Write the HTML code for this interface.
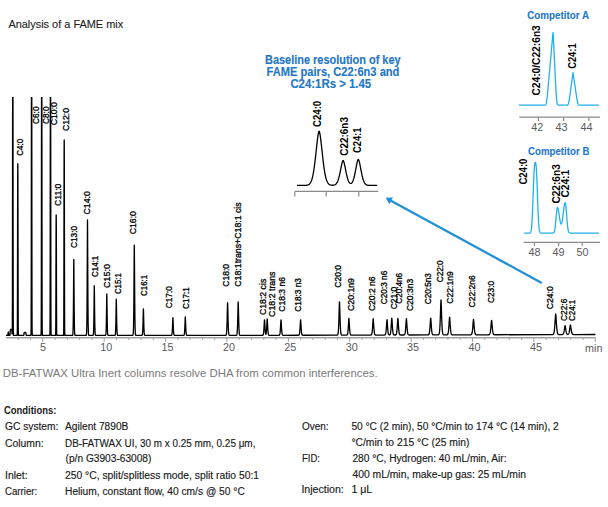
<!DOCTYPE html>
<html><head><meta charset="utf-8"><style>
html,body{margin:0;padding:0;background:#fff;}
svg{display:block;}
text{font-family:"Liberation Sans",sans-serif;}
.ax{font-size:10.8px;fill:#5a5a5a;}
.ax2{font-size:10.8px;fill:#5a5a5a;}
.lb{font-size:9.4px;fill:#000;stroke:#000;stroke-width:0.32px;}
.lbb{font-size:10px;font-weight:bold;fill:#000;}
.bt{font-size:12px;font-weight:bold;fill:#1f78c8;stroke:#1f78c8;stroke-width:0.15px;}
.ct{font-size:10px;font-weight:bold;fill:#1f78c8;stroke:#1f78c8;stroke-width:0.1px;}
.ttl{font-size:11px;fill:#1e1e1e;stroke:#1e1e1e;stroke-width:0.12px;}
.cap{font-size:10.8px;fill:#7a7a7a;}
.cd{font-size:10px;fill:#1a1a1a;stroke:#1a1a1a;stroke-width:0.15px;}
.cdb{font-size:10px;font-weight:bold;fill:#1a1a1a;}
</style></head>
<body><svg width="608" height="507" viewBox="0 0 608 507">
<clipPath id="cp"><rect x="0" y="97" width="608" height="260"/></clipPath>
<path d="M6,335.4 6.1,335.4 6.3,335.4 6.5,335.4 6.7,335.4 6.9,335.4 6.98,335.4 7.1,335.4 7.18,335.4 7.3,335.4 7.38,335.4 7.5,335.4 7.58,335.4 7.7,335.39 7.78,335.35 7.8,335.33 7.85,335.23 7.9,335.03 7.95,334.71 7.98,334.45 8,334.25 8.05,333.69 8.1,333.11 8.15,332.59 8.18,332.35 8.2,332.23 8.25,332.04 8.3,332 8.35,332.04 8.38,332.13 8.4,332.23 8.45,332.59 8.5,333.11 8.55,333.69 8.58,334.04 8.6,334.25 8.65,334.71 8.7,335.03 8.75,335.23 8.78,335.3 8.8,335.33 8.9,335.39 8.98,335.4 9.1,335.4 9.18,335.4 9.3,335.4 9.38,335.4 9.5,335.4 9.58,335.4 9.7,335.4 9.78,335.4 9.9,335.4 10.1,333.99 10.3,330.34 10.5,329.55 10.6,329.51 10.65,329.5 10.7,329.5 10.75,329.5 10.8,329.5 10.85,329.5 10.9,329.5 10.95,329.5 11,329.5 11.05,329.5 11.1,329.5 11.15,329.5 11.2,329.5 11.25,329.5 11.3,329.5 11.35,329.5 11.4,329.5 11.45,329.5 11.48,329.5 11.5,329.5 11.55,329.5 11.6,329.51 11.68,329.54 11.7,329.55 11.88,330.16 11.9,330.34 12.08,333.55 12.1,333.96 12.28,331.09 12.3,328.97 12.35,319.57 12.4,301.44 12.45,271.48 12.48,247.34 12.5,228.9 12.55,176.93 12.6,122.71 12.65,75.08 12.68,52.82 12.7,41.22 12.75,23.86 12.8,20 12.85,23.86 12.88,32.33 12.9,41.22 12.95,75.08 13,122.71 13.05,176.93 13.08,208.91 13.1,228.9 13.15,271.48 13.2,301.44 13.25,319.57 13.28,326.02 13.3,328.97 13.48,335.33 13.5,335.36 13.68,335.4 13.7,335.4 13.88,335.4 13.9,335.4 14.08,335.4 14.1,335.4 14.28,335.4 14.3,335.4 14.5,335.4 14.7,335.4 14.9,335.4 15.1,335.4 15.3,335.4 15.5,335.4 15.7,335.4 15.9,335.4 16.1,335.4 16.3,335.4 16.48,335.4 16.5,335.4 16.68,335.4 16.7,335.4 16.88,335.4 17.08,335.39 17.28,333.06 17.3,331.9 17.35,326.78 17.4,316.91 17.45,300.6 17.48,287.46 17.5,277.42 17.55,249.13 17.6,219.61 17.65,193.68 17.68,181.56 17.7,175.25 17.75,165.8 17.8,163.7 17.85,165.8 17.88,170.41 17.9,175.25 17.95,193.68 18,219.61 18.05,249.13 18.08,266.54 18.1,277.42 18.15,300.6 18.2,316.91 18.25,326.78 18.28,330.3 18.3,331.9 18.48,335.36 18.68,335.4 18.88,335.4 19,335.4 19.08,335.4 19.2,335.4 19.28,335.4 19.4,335.4 19.6,335.4 19.8,335.4 20,335.4 20.2,335.4 20.4,335.4 20.6,335.4 20.8,335.4 21,335.4 21.2,335.4 21.4,335.4 21.6,335.4 21.8,335.4 22,335.4 22.2,335.4 22.4,335.4 22.6,335.4 22.8,335.4 23,335.4 23.2,335.4 23.4,335.4 23.6,335.4 23.8,335.27 24,333.64 24.2,332.65 24.4,332.51 24.5,332.5 24.55,332.5 24.6,332.5 24.65,332.5 24.7,332.5 24.75,332.5 24.8,332.5 24.85,332.5 24.9,332.5 24.95,332.5 25,332.5 25.05,332.5 25.1,332.5 25.15,332.5 25.2,332.5 25.25,332.5 25.3,332.5 25.35,332.5 25.4,332.5 25.45,332.5 25.5,332.5 25.6,332.51 25.8,332.65 26,333.64 26.2,335.27 26.4,335.4 26.6,335.4 26.8,335.4 27,335.4 27.2,335.4 27.4,335.4 27.6,335.4 27.8,335.4 28,335.4 28.2,335.4 28.4,335.4 28.6,335.4 28.8,335.4 29,335.4 29.2,335.4 29.4,335.4 29.6,335.4 29.8,335.4 30,335.4 30.2,335.4 30.28,335.4 30.4,335.4 30.48,335.4 30.6,335.4 30.68,335.4 30.8,335.4 30.88,335.38 31,334.72 31.08,331.1 31.1,328.97 31.15,319.57 31.2,301.44 31.25,271.48 31.28,247.34 31.3,228.9 31.35,176.93 31.4,122.71 31.45,75.08 31.48,52.82 31.5,41.22 31.55,23.86 31.6,20 31.65,23.86 31.68,32.33 31.7,41.22 31.75,75.08 31.8,122.71 31.85,176.93 31.88,208.91 31.9,228.9 31.95,271.48 32,301.44 32.05,319.57 32.08,326.02 32.1,328.97 32.28,335.33 32.48,335.4 32.68,335.4 32.88,335.4 33.08,335.4 40.38,335.4 40.58,335.4 40.78,335.4 40.98,335.38 41.18,331.1 41.2,328.97 41.25,319.57 41.3,301.44 41.35,271.48 41.38,247.34 41.4,228.9 41.45,176.93 41.5,122.71 41.55,75.08 41.58,52.82 41.6,41.22 41.65,23.86 41.7,20 41.75,23.86 41.78,32.33 41.8,41.22 41.85,75.08 41.9,122.71 41.95,176.93 41.98,208.91 42,228.9 42.05,271.48 42.1,301.44 42.15,319.57 42.18,326.02 42.2,328.97 42.38,335.33 42.58,335.4 42.78,335.4 42.98,335.4 43.18,335.4 49.18,335.4 49.38,335.4 49.58,335.4 49.78,335.38 49.98,331.1 50,328.97 50.05,319.57 50.1,301.44 50.15,271.48 50.18,247.34 50.2,228.9 50.25,176.93 50.3,122.71 50.35,75.08 50.38,52.82 50.4,41.22 50.45,23.86 50.5,20 50.55,23.86 50.58,32.33 50.6,41.22 50.65,75.08 50.7,122.71 50.75,176.93 50.78,208.91 50.8,228.9 50.85,271.48 50.9,301.44 50.95,319.57 50.98,326.02 51,328.97 51.18,335.33 51.38,335.4 51.58,335.4 51.78,335.4 51.98,335.4 54.88,335.4 55.08,335.4 55.28,335.4 55.48,335.39 55.68,333.76 55.7,332.95 55.75,329.36 55.8,322.44 55.85,311 55.88,301.78 55.9,294.75 55.95,274.91 56,254.21 56.05,236.03 56.08,227.53 56.1,223.1 56.15,216.47 56.2,215 56.25,216.47 56.28,219.71 56.3,223.1 56.35,236.03 56.4,254.21 56.45,274.91 56.48,287.12 56.5,294.75 56.55,311 56.6,322.44 56.65,329.36 56.68,331.82 56.7,332.95 56.88,335.37 57.08,335.4 57.28,335.4 57.48,335.4 57.68,335.4 62.88,335.4 63.08,335.4 63.28,335.4 63.48,335.39 63.68,332.73 63.7,331.42 63.75,325.59 63.8,314.36 63.85,295.8 63.88,280.84 63.9,269.42 63.95,237.22 64,203.63 64.05,174.12 64.08,160.33 64.1,153.15 64.15,142.39 64.2,140 64.25,142.39 64.28,147.64 64.3,153.15 64.35,174.12 64.4,203.63 64.45,237.22 64.48,257.04 64.5,269.42 64.55,295.8 64.6,314.36 64.65,325.59 64.68,329.59 64.7,331.42 64.88,335.36 65.08,335.4 65.28,335.4 65.48,335.4 65.68,335.4 72.3,335.39 72.5,335.33 72.7,335.04 72.9,333.83 73.1,329.74 73.3,318.71 73.35,314.28 73.4,309.09 73.45,303.13 73.5,296.49 73.55,289.3 73.6,281.84 73.65,274.46 73.7,267.68 73.75,262.24 73.8,259.4 73.85,262.24 73.9,267.68 73.95,274.46 74,281.84 74.05,289.3 74.1,296.49 74.15,303.13 74.2,309.09 74.25,314.28 74.3,318.71 74.5,329.74 74.7,333.83 74.9,335.04 75.1,335.33 75.3,335.39 75.5,335.4 85.96,335.38 86.16,335.3 86.36,334.9 86.56,333.28 86.76,327.84 86.96,313.14 87,308.46 87.05,301.63 87.1,293.68 87.15,284.64 87.16,282.71 87.2,274.64 87.25,263.9 87.3,252.8 87.35,241.9 87.36,239.8 87.4,231.93 87.45,223.95 87.5,219.8 87.55,223.95 87.56,225.33 87.6,231.93 87.65,241.9 87.7,252.8 87.75,263.9 87.76,266.09 87.8,274.64 87.85,284.64 87.9,293.68 87.95,301.63 87.96,303.08 88,308.46 88.16,323.47 88.36,331.8 88.56,334.49 88.76,335.21 88.96,335.36 89.16,335.39 92.73,335.39 92.93,335.36 93.13,335.19 93.33,334.54 93.53,332.39 93.73,326.6 93.8,323.19 93.85,320.22 93.9,316.78 93.93,314.5 93.95,312.9 94,308.63 94.05,304.08 94.1,299.4 94.13,296.62 94.15,294.82 94.2,290.66 94.25,287.33 94.3,285.6 94.33,286.37 94.35,287.33 94.4,290.66 94.45,294.82 94.5,299.4 94.53,302.21 94.55,304.08 94.6,308.63 94.65,312.9 94.7,316.78 94.73,318.9 94.75,320.22 94.8,323.19 94.93,328.89 95.13,333.29 95.33,334.83 95.53,335.27 95.73,335.37 95.93,335.4 105.16,335.39 105.36,335.37 105.56,335.25 105.76,334.81 105.96,333.39 106.16,329.55 106.3,324.31 106.35,321.79 106.36,321.25 106.4,318.92 106.45,315.72 106.5,312.23 106.55,308.55 106.56,307.8 106.6,304.8 106.65,301.16 106.7,297.87 106.75,295.25 106.76,294.85 106.8,293.9 106.85,295.25 106.9,297.87 106.95,301.16 106.96,301.87 107,304.8 107.05,308.55 107.1,312.23 107.15,315.72 107.16,316.38 107.2,318.92 107.25,321.79 107.3,324.31 107.36,326.87 107.56,332.25 107.76,334.42 107.96,335.14 108.16,335.34 108.36,335.39 108.56,335.4 114.62,335.39 114.82,335.37 115.02,335.28 115.22,334.92 115.42,333.79 115.62,330.79 115.8,325.13 115.82,324.28 115.85,322.92 115.9,320.41 115.95,317.64 116,314.65 116.02,313.41 116.05,311.51 116.1,308.34 116.15,305.27 116.2,302.51 116.22,301.55 116.25,300.33 116.3,299.2 116.35,300.33 116.4,302.51 116.42,303.56 116.45,305.27 116.5,308.34 116.55,311.51 116.6,314.65 116.62,315.87 116.65,317.64 116.7,320.41 116.75,322.92 116.8,325.13 116.82,325.94 117.02,331.62 117.22,334.12 117.42,335.03 117.62,335.31 117.82,335.38 118.02,335.4 132.53,335.39 132.73,335.33 132.93,335.13 133.13,334.41 133.33,332.22 133.53,326.45 133.73,313.76 133.8,307.05 133.85,301.47 133.9,295.26 133.93,291.25 133.95,288.48 134,281.26 134.05,273.78 134.1,266.29 134.13,261.92 134.15,259.12 134.2,252.72 134.25,247.69 134.3,245.1 134.33,246.25 134.35,247.69 134.4,252.72 134.45,259.12 134.5,266.29 134.53,270.77 134.55,273.78 134.6,281.26 134.65,288.48 134.7,295.26 134.73,299.06 134.75,301.47 134.8,307.05 134.93,318.52 135.13,328.74 135.33,333.13 135.53,334.72 135.73,335.22 135.93,335.36 136.13,335.39 141.58,335.4 141.78,335.38 141.98,335.33 142.18,335.14 142.38,334.58 142.58,333.11 142.78,329.86 142.9,326.65 142.95,325 142.98,323.93 143,323.18 143.05,321.21 143.1,319.12 143.15,316.97 143.18,315.67 143.2,314.82 143.25,312.78 143.3,310.96 143.35,309.53 143.38,308.97 143.4,308.8 143.45,309.53 143.5,310.96 143.55,312.78 143.58,313.99 143.6,314.82 143.65,316.97 143.7,319.12 143.75,321.21 143.78,322.41 143.8,323.18 143.85,325 143.9,326.65 143.98,328.91 144.18,332.64 144.38,334.38 144.58,335.07 144.78,335.31 144.98,335.38 145.18,335.39 145.38,335.4 170.93,335.4 171.13,335.39 171.33,335.36 171.53,335.27 171.73,335.01 171.93,334.36 172.13,332.9 172.33,330.12 172.4,328.76 172.45,327.67 172.5,326.49 172.53,325.74 172.55,325.23 172.6,323.92 172.65,322.59 172.7,321.28 172.73,320.53 172.75,320.06 172.8,318.97 172.85,318.13 172.9,317.7 172.93,317.89 172.95,318.13 173,318.97 173.05,320.06 173.1,321.28 173.13,322.06 173.15,322.59 173.2,323.92 173.25,325.23 173.3,326.49 173.33,327.21 173.35,327.67 173.4,328.76 173.53,331.12 173.73,333.45 173.93,334.62 174.13,335.12 174.33,335.31 174.53,335.37 174.73,335.39 174.93,335.4 183.27,335.4 183.47,335.39 183.67,335.36 183.87,335.28 184.07,335.04 184.27,334.45 184.47,333.13 184.67,330.6 184.8,328.12 184.85,326.99 184.87,326.51 184.9,325.77 184.95,324.48 185,323.14 185.05,321.8 185.07,321.27 185.1,320.48 185.15,319.25 185.2,318.17 185.25,317.33 185.27,317.09 185.3,316.9 185.35,317.33 185.4,318.17 185.45,319.25 185.47,319.73 185.5,320.48 185.55,321.8 185.6,323.14 185.65,324.48 185.67,325 185.7,325.77 185.75,326.99 185.8,328.12 185.87,329.54 186.07,332.52 186.27,334.15 186.47,334.91 186.67,335.23 186.87,335.34 187.07,335.38 187.27,335.4 187.47,335.4 225.35,335.4 225.55,335.38 225.75,335.35 225.95,335.25 226.15,334.98 226.35,334.35 226.55,332.98 226.75,330.3 226.95,325.64 227.1,320.63 227.15,318.69 227.2,316.65 227.25,314.53 227.3,312.38 227.35,310.24 227.4,308.18 227.45,306.27 227.5,304.62 227.55,303.35 227.6,302.7 227.65,303.35 227.7,304.62 227.75,306.27 227.8,308.18 227.85,310.24 227.9,312.38 227.95,314.53 228,316.65 228.05,318.69 228.1,320.63 228.15,322.44 228.35,328.25 228.55,331.85 228.75,333.79 228.95,334.73 229.15,335.15 229.35,335.31 229.55,335.37 229.75,335.39 229.95,335.4 235.9,335.39 236.1,335.38 236.3,335.35 236.5,335.25 236.7,335 236.9,334.42 237.1,333.15 237.3,330.68 237.5,326.37 237.7,319.82 237.75,317.85 237.8,315.79 237.85,313.66 237.9,311.51 237.95,309.37 238,307.32 238.05,305.43 238.1,303.8 238.15,302.54 238.2,301.9 238.25,302.54 238.3,303.8 238.35,305.43 238.4,307.32 238.45,309.37 238.5,311.51 238.55,313.66 238.6,315.79 238.65,317.85 238.7,319.82 238.9,326.37 239.1,330.68 239.3,333.15 239.5,334.42 239.7,335 239.9,335.25 240.1,335.35 240.3,335.38 240.5,335.39 262.07,335.37 262.27,335.36 262.47,335.35 262.67,335.31 262.87,335.22 263.07,335.01 263.27,334.56 263.47,333.69 263.67,332.16 263.87,329.75 264,327.68 264.05,326.8 264.07,326.44 264.1,325.89 264.15,324.95 264.2,324.01 264.25,323.09 264.27,322.73 264.3,322.21 264.35,321.4 264.4,320.7 264.45,320.17 264.47,320.02 264.5,319.9 264.55,320.17 264.6,320.7 264.65,321.4 264.67,321.71 264.7,322.2 264.75,323.08 264.8,324 264.85,324.94 264.87,325.32 264.9,325.88 264.95,326.79 265,327.67 265.07,328.82 265.15,330 265.27,331.49 265.35,332.29 265.47,333.2 265.55,333.65 265.67,334.09 265.75,334.25 265.87,334.3 265.95,334.22 266.07,333.89 266.15,333.53 266.27,332.76 266.35,332.07 266.47,330.74 266.55,329.64 266.67,327.7 266.7,327.17 266.75,326.24 266.8,325.28 266.85,324.3 266.87,323.9 266.9,323.31 266.95,322.34 267,321.42 267.05,320.57 267.07,320.26 267.1,319.84 267.15,319.28 267.2,319 267.25,319.28 267.3,319.84 267.35,320.57 267.4,321.42 267.45,322.34 267.5,323.31 267.55,324.3 267.6,325.29 267.65,326.25 267.7,327.18 267.75,328.06 267.95,331.01 268.15,332.99 268.35,334.17 268.55,334.8 268.75,335.11 268.95,335.26 269.15,335.31 269.35,335.34 269.55,335.34 269.75,335.35 278.48,335.32 278.68,335.32 278.88,335.31 279.08,335.27 279.28,335.19 279.48,335.02 279.68,334.65 279.88,333.94 280.08,332.66 280.28,330.62 280.48,327.71 280.5,327.37 280.55,326.51 280.6,325.62 280.65,324.72 280.68,324.17 280.7,323.81 280.75,322.93 280.8,322.09 280.85,321.32 280.88,320.91 280.9,320.66 280.95,320.15 281,319.9 281.05,320.15 281.08,320.43 281.1,320.66 281.15,321.32 281.2,322.09 281.25,322.93 281.28,323.45 281.3,323.81 281.35,324.72 281.4,325.62 281.45,326.51 281.48,327.03 281.5,327.37 281.68,330.1 281.88,332.32 282.08,333.73 282.28,334.53 282.48,334.96 282.68,335.16 282.88,335.25 283.08,335.29 283.28,335.3 283.48,335.31 283.68,335.31 297.99,335.27 298.19,335.27 298.39,335.26 298.59,335.23 298.79,335.16 298.99,335 299.19,334.69 299.39,334.09 299.59,333.02 299.79,331.28 299.99,328.74 300.1,327.03 300.15,326.19 300.19,325.5 300.2,325.33 300.25,324.46 300.3,323.6 300.35,322.76 300.39,322.11 300.4,321.96 300.45,321.23 300.5,320.61 300.55,320.14 300.59,319.92 300.6,319.9 300.65,320.14 300.7,320.61 300.75,321.23 300.79,321.81 300.8,321.96 300.85,322.75 300.9,323.6 300.95,324.46 300.99,325.16 301,325.33 301.05,326.19 301.1,327.02 301.19,328.44 301.39,331.06 301.59,332.87 301.79,334 301.99,334.64 302.19,334.97 302.39,335.14 302.59,335.21 302.79,335.24 302.99,335.25 303.19,335.26 303.39,335.26 336.69,335.17 336.89,335.16 337.09,335.14 337.29,335.09 337.49,334.98 337.69,334.74 337.89,334.26 338.09,333.36 338.29,331.76 338.49,329.13 338.69,325.12 338.89,319.6 339,316.01 339.05,314.29 339.09,312.89 339.1,312.54 339.15,310.78 339.2,309.05 339.25,307.38 339.29,306.12 339.3,305.81 339.35,304.39 339.4,303.18 339.45,302.26 339.49,301.84 339.5,301.8 339.55,302.26 339.6,303.18 339.65,304.39 339.69,305.51 339.7,305.81 339.75,307.38 339.8,309.05 339.85,310.78 339.89,312.18 339.9,312.53 339.95,314.28 340,316.01 340.09,318.97 340.29,324.64 340.49,328.79 340.69,331.55 340.89,333.23 341.09,334.19 341.29,334.7 341.49,334.95 341.69,335.07 341.89,335.12 342.09,335.14 342.29,335.15 342.49,335.16 346.04,335.15 346.24,335.14 346.44,335.13 346.64,335.11 346.84,335.06 347.04,334.95 347.24,334.73 347.44,334.32 347.64,333.59 347.84,332.39 348.04,330.55 348.24,327.98 348.4,325.45 348.44,324.77 348.45,324.6 348.5,323.74 348.55,322.88 348.6,322.03 348.64,321.38 348.65,321.22 348.7,320.45 348.75,319.76 348.8,319.17 348.84,318.8 348.85,318.72 348.9,318.5 348.95,318.72 349,319.17 349.04,319.63 349.05,319.76 349.1,320.45 349.15,321.22 349.2,322.03 349.24,322.71 349.25,322.88 349.3,323.74 349.35,324.6 349.4,325.44 349.44,326.11 349.64,329.09 349.84,331.36 350.04,332.93 350.24,333.92 350.44,334.5 350.64,334.82 350.84,334.99 351.04,335.07 351.24,335.11 351.44,335.12 351.64,335.13 351.84,335.13 370.22,335.08 370.42,335.08 370.62,335.07 370.82,335.05 371.02,335 371.22,334.91 371.42,334.74 371.62,334.4 371.82,333.82 372.02,332.85 372.22,331.36 372.42,329.23 372.62,326.45 372.7,325.2 372.75,324.39 372.8,323.58 372.82,323.25 372.85,322.77 372.9,321.97 372.95,321.21 373,320.5 373.02,320.24 373.05,319.86 373.1,319.32 373.15,318.91 373.2,318.7 373.22,318.75 373.25,318.91 373.3,319.32 373.35,319.86 373.4,320.5 373.42,320.78 373.45,321.21 373.5,321.97 373.55,322.77 373.6,323.57 373.62,323.9 373.65,324.39 373.7,325.19 373.82,327.04 374.02,329.7 374.22,331.7 374.42,333.08 374.62,333.96 374.82,334.48 375.02,334.77 375.22,334.93 375.42,335 375.62,335.04 375.82,335.06 376.02,335.07 376.22,335.07 383.95,335.05 384.15,335.04 384.35,335.04 384.55,335.02 384.75,334.98 384.95,334.9 385.15,334.75 385.35,334.47 385.55,333.99 385.75,333.18 385.95,331.93 386.15,330.13 386.35,327.73 386.5,325.61 386.55,324.87 386.6,324.13 386.65,323.39 386.7,322.67 386.75,321.98 386.8,321.33 386.85,320.75 386.9,320.26 386.95,319.89 387,319.7 387.05,319.89 387.1,320.26 387.15,320.75 387.2,321.33 387.25,321.97 387.3,322.67 387.35,323.39 387.4,324.13 387.45,324.87 387.5,325.61 387.55,326.34 387.75,328.99 387.95,331.1 388.15,332.61 388.35,333.63 388.55,334.25 388.72,334.58 388.75,334.62 388.92,334.8 388.95,334.82 389.12,334.91 389.15,334.92 389.32,334.95 389.35,334.95 389.52,334.94 389.55,334.93 389.72,334.87 389.75,334.86 389.92,334.72 389.95,334.69 390.12,334.43 390.15,334.37 390.32,333.93 390.52,333.09 390.72,331.77 390.92,329.87 391.12,327.32 391.3,324.56 391.32,324.24 391.35,323.75 391.4,322.94 391.45,322.13 391.5,321.34 391.52,321.03 391.55,320.58 391.6,319.88 391.65,319.25 391.7,318.71 391.72,318.53 391.75,318.3 391.8,318.1 391.85,318.3 391.9,318.71 391.92,318.91 391.95,319.24 392,319.88 392.05,320.58 392.1,321.34 392.12,321.65 392.15,322.13 392.2,322.93 392.25,323.75 392.3,324.56 392.32,324.88 392.52,327.87 392.72,330.3 392.92,332.07 393.12,333.28 393.32,334.04 393.52,334.5 393.72,334.75 393.92,334.89 394.12,334.96 394.32,334.99 394.52,335.01 394.72,335.02 394.79,335.02 394.92,335.02 394.99,335.01 395.19,335.01 395.39,334.99 395.59,334.95 395.79,334.87 395.99,334.73 396.19,334.46 396.39,333.99 396.59,333.2 396.79,331.98 396.99,330.2 397.19,327.81 397.39,324.88 397.4,324.72 397.45,323.94 397.5,323.15 397.55,322.37 397.59,321.76 397.6,321.61 397.65,320.89 397.7,320.21 397.75,319.6 397.79,319.18 397.8,319.08 397.85,318.7 397.9,318.5 397.95,318.69 397.99,318.99 398,319.08 398.05,319.6 398.1,320.21 398.15,320.88 398.19,321.46 398.2,321.61 398.25,322.37 398.3,323.15 398.35,323.94 398.39,324.57 398.4,324.72 398.59,327.53 398.79,329.99 398.99,331.83 399.19,333.1 399.39,333.92 399.59,334.41 399.79,334.7 399.99,334.85 400.19,334.93 400.39,334.97 400.59,334.99 400.79,335 400.99,335 401.19,335 403.25,335 403.45,334.99 403.65,334.99 403.85,334.97 404.05,334.93 404.25,334.86 404.45,334.72 404.65,334.47 404.85,334.03 405.05,333.31 405.25,332.17 405.45,330.52 405.65,328.27 405.85,325.49 405.9,324.74 405.95,323.97 406,323.21 406.05,322.45 406.1,321.71 406.15,321.01 406.2,320.35 406.25,319.76 406.3,319.26 406.35,318.89 406.4,318.7 406.45,318.89 406.5,319.26 406.55,319.76 406.6,320.35 406.65,321.01 406.7,321.71 406.75,322.45 406.8,323.2 406.85,323.97 406.9,324.73 407.05,326.93 407.25,329.46 407.45,331.41 407.65,332.79 407.85,333.71 408.05,334.27 408.25,334.61 408.45,334.79 408.65,334.89 408.85,334.94 409.05,334.96 409.25,334.98 409.45,334.98 409.65,334.98 427.43,334.93 427.63,334.93 427.83,334.92 428.03,334.91 428.23,334.87 428.43,334.81 428.63,334.69 428.83,334.47 429.03,334.09 429.23,333.47 429.43,332.5 429.63,331.06 429.83,329.08 430.03,326.53 430.2,324.04 430.23,323.58 430.25,323.28 430.3,322.52 430.35,321.77 430.4,321.04 430.43,320.62 430.45,320.35 430.5,319.71 430.55,319.13 430.6,318.65 430.63,318.41 430.65,318.28 430.7,318.1 430.75,318.28 430.8,318.65 430.83,318.93 430.85,319.13 430.9,319.71 430.95,320.35 431,321.04 431.03,321.47 431.05,321.77 431.1,322.52 431.15,323.28 431.2,324.04 431.23,324.49 431.43,327.34 431.63,329.73 431.83,331.54 432.03,332.83 432.23,333.68 432.43,334.22 432.63,334.54 432.83,334.72 433.03,334.82 433.23,334.87 433.43,334.9 433.63,334.91 433.83,334.92 434.03,334.92 437.68,334.9 437.88,334.9 438.08,334.88 438.28,334.85 438.48,334.78 438.68,334.66 438.88,334.42 439.08,334 439.28,333.28 439.48,332.08 439.68,330.21 439.88,327.44 440.08,323.58 440.28,318.59 440.48,312.69 440.5,312.07 440.55,310.52 440.6,308.97 440.65,307.44 440.68,306.55 440.7,305.96 440.75,304.56 440.8,303.26 440.85,302.09 440.88,301.48 440.9,301.11 440.95,300.37 441,300 441.05,300.37 441.08,300.78 441.1,301.11 441.15,302.09 441.2,303.26 441.25,304.56 441.28,305.39 441.3,305.96 441.35,307.44 441.4,308.97 441.45,310.51 441.48,311.45 441.5,312.07 441.68,317.46 441.88,322.67 442.08,326.75 442.28,329.73 442.48,331.76 442.68,333.07 442.88,333.88 443.08,334.35 443.28,334.61 443.48,334.75 443.68,334.83 443.88,334.86 444.08,334.88 444.28,334.89 444.48,334.89 446.23,334.89 446.43,334.88 446.63,334.87 446.83,334.86 447.03,334.83 447.23,334.77 447.43,334.66 447.63,334.46 447.83,334.12 448.03,333.56 448.23,332.68 448.43,331.38 448.63,329.56 448.83,327.17 449.03,324.29 449.1,323.21 449.15,322.44 449.2,321.66 449.23,321.2 449.25,320.9 449.3,320.17 449.35,319.47 449.4,318.82 449.43,318.46 449.45,318.24 449.5,317.75 449.55,317.38 449.6,317.2 449.63,317.28 449.65,317.38 449.7,317.75 449.75,318.24 449.8,318.82 449.83,319.2 449.85,319.46 449.9,320.16 449.95,320.9 450,321.66 450.03,322.12 450.05,322.43 450.1,323.21 450.23,325.19 450.43,327.94 450.63,330.16 450.83,331.82 451.03,332.98 451.23,333.75 451.43,334.23 451.63,334.52 451.83,334.69 452.03,334.78 452.23,334.82 452.43,334.85 452.63,334.86 452.83,334.87 453.03,334.87 470.01,334.82 470.21,334.82 470.41,334.81 470.61,334.8 470.81,334.78 471.01,334.73 471.21,334.65 471.41,334.5 471.61,334.25 471.81,333.84 472.01,333.2 472.21,332.25 472.41,330.89 472.61,329.08 472.81,326.83 473,324.41 473.01,324.28 473.05,323.76 473.1,323.11 473.15,322.47 473.2,321.86 473.21,321.74 473.25,321.27 473.3,320.74 473.35,320.26 473.4,319.85 473.41,319.78 473.45,319.55 473.5,319.4 473.55,319.55 473.6,319.85 473.61,319.93 473.65,320.26 473.7,320.74 473.75,321.27 473.8,321.85 473.81,321.98 473.85,322.47 473.9,323.1 473.95,323.75 474,324.41 474.01,324.54 474.21,327.07 474.41,329.28 474.61,331.04 474.81,332.35 475.01,333.27 475.21,333.88 475.41,334.27 475.61,334.51 475.81,334.65 476.01,334.72 476.21,334.77 476.41,334.79 476.61,334.8 476.81,334.8 477.01,334.81 488.02,334.78 488.22,334.77 488.42,334.77 488.62,334.76 488.82,334.74 489.02,334.7 489.22,334.63 489.42,334.51 489.62,334.3 489.82,333.96 490.02,333.44 490.22,332.65 490.42,331.53 490.62,330.02 490.82,328.1 491.02,325.86 491.1,324.91 491.15,324.32 491.2,323.73 491.22,323.5 491.25,323.16 491.3,322.6 491.35,322.08 491.4,321.6 491.42,321.42 491.45,321.17 491.5,320.81 491.55,320.54 491.6,320.4 491.62,320.43 491.65,320.54 491.7,320.81 491.75,321.17 491.8,321.6 491.82,321.78 491.85,322.08 491.9,322.6 491.95,323.16 492,323.73 492.02,323.96 492.05,324.32 492.1,324.91 492.22,326.32 492.42,328.51 492.62,330.35 492.82,331.78 493.02,332.83 493.22,333.55 493.42,334.03 493.62,334.34 493.82,334.52 494.02,334.63 494.22,334.69 494.42,334.73 494.62,334.74 494.82,334.75 495.02,334.76 495.22,334.76 551.8,334.61 552,334.61 552.2,334.6 552.4,334.59 552.6,334.56 552.8,334.52 553,334.45 553.2,334.33 553.4,334.13 553.6,333.82 553.8,333.33 554,332.59 554.2,331.53 554.4,330.07 554.6,328.14 554.8,325.71 555,322.86 555.2,319.76 555.25,318.99 555.3,318.23 555.35,317.49 555.4,316.78 555.45,316.11 555.5,315.5 555.55,314.96 555.6,314.51 555.65,314.17 555.7,314 555.75,314.17 555.8,314.51 555.85,314.96 555.9,315.5 555.95,316.11 556,316.78 556.05,317.49 556.1,318.23 556.15,318.99 556.2,319.76 556.4,322.86 556.6,325.71 556.8,328.13 557,330.06 557.2,331.53 557.4,332.58 557.6,333.32 557.8,333.81 558,334.12 558.2,334.32 558.4,334.44 558.6,334.51 558.8,334.55 559,334.57 559.2,334.58 559.4,334.59 559.6,334.59 559.8,334.59 561.15,334.59 561.35,334.59 561.55,334.58 561.75,334.58 561.95,334.57 562.15,334.55 562.35,334.52 562.55,334.47 562.75,334.39 562.95,334.26 563.15,334.06 563.35,333.77 563.55,333.34 563.75,332.75 563.95,331.96 564.15,330.97 564.35,329.78 564.55,328.48 564.6,328.14 564.65,327.81 564.7,327.49 564.75,327.18 564.8,326.88 564.85,326.59 564.9,326.34 564.95,326.11 565,325.92 565.05,325.77 565.1,325.7 565.15,325.77 565.2,325.91 565.25,326.11 565.3,326.34 565.35,326.59 565.4,326.88 565.45,327.18 565.5,327.49 565.55,327.81 565.6,328.14 565.75,329.14 565.95,330.39 566.15,331.48 566.35,332.37 566.42,332.63 566.55,333.06 566.62,333.25 566.75,333.56 566.82,333.7 566.95,333.91 567.02,334.01 567.15,334.15 567.22,334.21 567.35,334.29 567.42,334.33 567.55,334.37 567.62,334.38 567.75,334.39 567.82,334.38 567.95,334.36 568.02,334.33 568.15,334.26 568.22,334.22 568.35,334.1 568.42,334.02 568.55,333.84 568.62,333.72 568.75,333.45 568.82,333.28 568.95,332.9 569.02,332.67 569.15,332.16 569.22,331.85 569.42,330.81 569.62,329.57 569.82,328.18 569.9,327.61 569.95,327.26 570,326.91 570.02,326.78 570.05,326.58 570.1,326.26 570.15,325.95 570.2,325.68 570.22,325.58 570.25,325.43 570.3,325.23 570.35,325.08 570.4,325 570.42,325.02 570.45,325.08 570.5,325.23 570.55,325.43 570.6,325.68 570.62,325.78 570.65,325.95 570.7,326.25 570.75,326.57 570.8,326.91 570.82,327.05 570.85,327.25 570.9,327.61 571.02,328.46 571.22,329.82 571.42,331.03 571.62,332.02 571.82,332.8 572.02,333.38 572.22,333.79 572.42,334.07 572.62,334.26 572.82,334.38 573.02,334.45 573.22,334.5 573.42,334.52 573.62,334.54 573.82,334.55 574.02,334.55 574.22,334.55 574.42,334.55 595.4,334.5" fill="none" stroke="#000" stroke-width="1.3" clip-path="url(#cp)" stroke-linejoin="round"/>
<line x1="6" y1="337.7" x2="595.6" y2="337.7" stroke="#a0a0a0" stroke-width="1.4"/>
<path d="M18.26,337.7 V339.9 M30.54,337.7 V339.9 M42.82,337.7 V341.9 M55.09,337.7 V339.9 M67.37,337.7 V339.9 M79.65,337.7 V339.9 M91.92,337.7 V339.9 M104.2,337.7 V341.9 M116.48,337.7 V339.9 M128.75,337.7 V339.9 M141.03,337.7 V339.9 M153.31,337.7 V339.9 M165.59,337.7 V341.9 M177.86,337.7 V339.9 M190.14,337.7 V339.9 M202.42,337.7 V339.9 M214.69,337.7 V339.9 M226.97,337.7 V341.9 M239.25,337.7 V339.9 M251.52,337.7 V339.9 M263.8,337.7 V339.9 M276.08,337.7 V339.9 M288.36,337.7 V341.9 M300.63,337.7 V339.9 M312.91,337.7 V339.9 M325.19,337.7 V339.9 M337.46,337.7 V339.9 M349.74,337.7 V341.9 M362.02,337.7 V339.9 M374.29,337.7 V339.9 M386.57,337.7 V339.9 M398.85,337.7 V339.9 M411.12,337.7 V341.9 M423.4,337.7 V339.9 M435.68,337.7 V339.9 M447.96,337.7 V339.9 M460.23,337.7 V339.9 M472.51,337.7 V341.9 M484.79,337.7 V339.9 M497.06,337.7 V339.9 M509.34,337.7 V339.9 M521.62,337.7 V339.9 M533.89,337.7 V341.9 M546.17,337.7 V339.9 M558.45,337.7 V339.9 M570.73,337.7 V339.9 M583,337.7 V339.9 M595.28,337.7 V341.9" stroke="#a0a0a0" stroke-width="1"/>
<text x="43.12" y="351" class="ax" text-anchor="middle">5</text>
<text x="106.2" y="351" class="ax" text-anchor="middle">10</text>
<text x="167.59" y="351" class="ax" text-anchor="middle">15</text>
<text x="228.97" y="351" class="ax" text-anchor="middle">20</text>
<text x="290.36" y="351" class="ax" text-anchor="middle">25</text>
<text x="351.74" y="351" class="ax" text-anchor="middle">30</text>
<text x="413.12" y="351" class="ax" text-anchor="middle">35</text>
<text x="474.51" y="351" class="ax" text-anchor="middle">40</text>
<text x="535.89" y="351" class="ax" text-anchor="middle">45</text>
<text x="585" y="351.6" class="ax">min</text>
<path d="M296.9,185.4 304,185.38 304.5,185.37 305,185.35 305.5,185.33 306,185.29 306.5,185.24 307,185.16 307.5,185.05 308,184.89 308.5,184.66 309,184.36 309.5,183.94 310,183.38 310.5,182.65 311,181.7 311.5,180.49 312,178.97 312.5,177.1 313,174.83 313.5,172.13 314,168.99 314.5,165.41 315,161.42 315.5,157.09 316,152.53 316.5,147.87 317,143.31 317.5,139.08 318,135.45 318.5,132.71 318.6,132.3 318.65,132.12 318.7,131.95 318.75,131.79 318.8,131.65 318.85,131.53 318.9,131.42 318.95,131.34 319,131.27 319.05,131.22 319.1,131.2 319.15,131.22 319.2,131.27 319.25,131.34 319.3,131.42 319.35,131.53 319.4,131.65 319.45,131.79 319.5,131.95 319.55,132.12 319.6,132.3 320,134.22 320.5,137.54 321,141.57 321.5,146.02 322,150.66 322.5,155.29 323,159.73 323.5,163.86 324,167.61 324.5,170.93 325,173.8 325.5,176.24 326,178.27 326.5,179.92 327,181.25 327.5,182.3 328,183.11 328.5,183.74 329,184.2 329.5,184.55 330,184.8 330.5,184.98 331,185.1 331.5,185.18 332,185.23 332.5,185.24 333,185.23 333.5,185.18 334,185.1 334.5,184.95 335,184.75 335.5,184.45 336,184.03 336.5,183.46 337,182.7 337.5,181.73 338,180.5 338.5,178.99 339,177.19 339.5,175.11 340,172.79 340.5,170.3 341,167.75 341.5,165.29 342,163.12 342.5,161.44 342.6,161.19 342.65,161.07 342.7,160.97 342.75,160.87 342.8,160.78 342.85,160.71 342.9,160.64 342.95,160.58 343,160.54 343.05,160.51 343.1,160.5 343.15,160.51 343.2,160.54 343.25,160.58 343.3,160.64 343.35,160.71 343.4,160.78 343.45,160.87 343.5,160.97 343.55,161.07 343.6,161.18 343.7,161.44 344,162.37 344.2,163.11 344.5,164.37 344.7,165.29 345,166.74 345.2,167.74 345.5,169.27 345.7,170.29 346,171.79 346.2,172.77 346.5,174.18 346.7,175.08 347,176.35 347.2,177.14 347.5,178.24 347.7,178.92 348,179.83 348.2,180.38 348.5,181.11 348.7,181.54 349,182.1 349.2,182.41 349.5,182.8 349.7,183.01 350,183.25 350.2,183.36 350.5,183.45 350.7,183.46 351,183.41 351.2,183.32 351.5,183.13 351.7,182.94 352,182.59 352.2,182.3 352.5,181.79 352.7,181.39 353,180.69 353.2,180.17 353.5,179.29 353.7,178.64 354,177.56 354.2,176.78 354.5,175.52 354.7,174.63 355,173.21 355.2,172.22 355.5,170.67 355.7,169.62 356,168.03 356.2,166.96 356.5,165.4 356.7,164.4 357,162.99 357.2,162.13 357.5,161 357.7,160.38 357.8,160.12 357.85,160 357.9,159.89 357.95,159.79 358,159.69 358.05,159.61 358.1,159.55 358.15,159.49 358.2,159.44 358.25,159.41 358.3,159.4 358.35,159.41 358.4,159.44 358.45,159.49 358.5,159.55 358.55,159.61 358.6,159.69 358.65,159.79 358.7,159.89 358.75,160 358.8,160.12 359,160.68 359.2,161.35 359.7,163.45 360.2,165.92 360.7,168.57 361.2,171.21 361.7,173.71 362.2,175.99 362.7,177.99 363.2,179.69 363.7,181.09 364.2,182.21 364.7,183.09 365.2,183.75 365.7,184.25 366.2,184.61 366.7,184.87 367.2,185.05 367.7,185.17 368.2,185.26 368.7,185.31 369.2,185.34 369.7,185.37 370.2,185.38 370.7,185.39 377.2,185.4" fill="none" stroke="#000" stroke-width="1.3"/>
<path d="M294.8,191.4 H378.3 M294.8,191.4 V196.5 M326.2,191.4 V196.5 M358.8,191.4 V196.5" stroke="#8a8a8a" stroke-width="1.2" fill="none"/>
<line x1="541.8" y1="282.9" x2="390" y2="200.2" stroke="#2190d6" stroke-width="2.3"/>
<path d="M385.6,197.8 L393,197.6 L389.4,204.2 Z" fill="#2190d6"/>
<path d="M519,105.1 544.75,105.09 545,105.07 545.25,105 545.5,104.86 545.75,104.57 546,104.06 546.25,103.23 546.5,102.04 546.75,100.44 547,98.47 547.25,96.2 547.5,93.69 547.75,91.05 548,88.32 548.25,85.55 548.5,82.77 548.75,79.98 549,77.18 549.25,74.39 549.5,71.6 549.75,68.81 550,66.02 550.25,63.23 550.5,60.43 550.75,57.64 551,54.85 551.25,52.06 551.5,49.27 551.75,46.48 552,43.68 552.25,40.89 552.5,38.1 552.75,35.31 553,32.52 553.25,34.56 553.5,39.82 553.75,45.09 554,50.35 554.25,55.62 554.5,60.88 554.75,66.14 555,71.38 555.25,76.54 555.5,81.59 555.75,86.42 556,90.89 556.25,94.83 556.5,98.12 556.75,100.68 557,102.51 557.25,103.71 557.5,104.43 557.75,104.81 558,104.99 558.25,105.07 558.5,105.09 566.75,105.1 567,105.09 567.25,105.05 567.5,104.98 567.75,104.83 568,104.55 568.25,104.08 568.5,103.39 568.75,102.44 569,101.24 569.25,99.81 569.5,98.22 569.75,96.5 570,94.72 570.25,92.9 570.5,91.06 570.75,89.22 571,87.37 571.25,85.53 571.5,83.68 571.75,81.83 572,79.99 572.25,78.14 572.5,76.29 572.75,74.45 573,72.6 573.25,74.29 573.5,75.99 573.75,77.68 574,79.37 574.25,81.06 574.5,82.76 574.75,84.45 575,86.14 575.25,87.83 575.5,89.53 575.75,91.22 576,92.91 576.25,94.59 576.5,96.25 576.75,97.86 577,99.4 577.25,100.81 577.5,102.04 577.75,103.05 578,103.82 578.25,104.37 578.5,104.72 578.75,104.92 579,105.02 579.25,105.07 579.5,105.09 599,105.1" fill="none" stroke="#1fb1ec" stroke-width="1.3" stroke-linejoin="round"/>
<path d="M519.3,117.2 H600 M538.4,117.2 V121 M563.6,117.2 V121 M588.9,117.2 V121" stroke="#8a8a8a" stroke-width="1.2" fill="none"/>
<text x="537.15" y="131" class="ax2" text-anchor="middle">42</text>
<text x="561.5" y="131" class="ax2" text-anchor="middle">43</text>
<text x="586.6" y="131" class="ax2" text-anchor="middle">44</text>
<path d="M524.2,233.1 529.3,233.09 529.5,233.08 529.7,233.05 529.9,233.01 530.1,232.92 530.3,232.79 530.5,232.56 530.7,232.2 530.9,231.65 531.1,230.84 531.3,229.69 531.5,228.13 531.7,226.06 531.9,223.42 532.1,220.16 532.3,216.29 532.5,211.82 532.7,206.84 532.9,201.48 533.1,195.9 533.3,190.28 533.5,184.83 533.7,179.74 533.9,175.17 534.1,171.26 534.3,168.09 534.5,165.69 534.7,164.03 534.8,163.45 534.85,163.23 534.9,163.04 534.95,162.88 535,162.75 535.05,162.66 535.1,162.59 535.15,162.54 535.2,162.51 535.25,162.5 535.3,162.5 535.35,162.5 535.4,162.51 535.45,162.54 535.5,162.59 535.55,162.66 535.6,162.75 535.65,162.88 535.7,163.04 535.75,163.23 535.8,163.45 535.9,164.03 536.1,165.69 536.3,168.09 536.5,171.26 536.7,175.17 536.9,179.74 537.1,184.83 537.3,190.28 537.5,195.9 537.7,201.48 537.9,206.84 538.1,211.82 538.3,216.29 538.5,220.16 538.7,223.42 538.9,226.06 539.1,228.13 539.3,229.69 539.5,230.84 539.7,231.65 539.9,232.2 540.1,232.56 540.3,232.79 540.5,232.92 540.7,233.01 540.9,233.05 541.1,233.08 541.3,233.09 552.4,233.08 552.6,233.07 552.8,233.05 552.9,233.04 553,233.02 553.1,232.99 553.2,232.96 553.3,232.92 553.4,232.87 553.5,232.82 553.6,232.74 553.7,232.65 553.8,232.55 553.9,232.42 554,232.26 554.1,232.08 554.2,231.86 554.3,231.61 554.4,231.31 554.5,230.97 554.6,230.58 554.7,230.14 554.8,229.64 554.9,229.07 555,228.44 555.1,227.75 555.2,226.99 555.3,226.16 555.4,225.26 555.5,224.3 555.6,223.28 555.7,222.21 555.8,221.1 555.9,219.94 556,218.76 556.1,217.57 556.2,216.38 556.3,215.2 556.4,214.05 556.5,212.95 556.6,211.91 556.7,210.95 556.8,210.08 556.9,209.32 556.95,208.98 557,208.67 557.05,208.4 557.1,208.16 557.15,207.96 557.2,207.79 557.25,207.65 557.3,207.56 557.35,207.5 557.4,207.48 557.45,207.48 557.5,207.5 557.55,207.54 557.6,207.59 557.65,207.66 557.7,207.74 557.75,207.83 557.8,207.94 557.85,208.06 557.9,208.2 558,208.51 558.1,208.87 558.2,209.29 558.3,209.75 558.4,210.25 558.5,210.79 558.6,211.36 558.7,211.96 558.8,212.59 558.9,213.24 559,213.91 559.1,214.59 559.2,215.27 559.3,215.96 559.4,216.64 559.5,217.32 559.6,217.98 559.7,218.63 559.8,219.26 559.9,219.86 560,220.43 560.1,220.97 560.2,221.48 560.3,221.95 560.4,222.37 560.5,222.75 560.6,223.09 560.7,223.37 560.8,223.6 560.9,223.78 561,223.91 561.1,223.98 561.2,223.99 561.3,223.95 561.4,223.85 561.5,223.69 561.6,223.48 561.7,223.21 561.8,222.88 561.9,222.51 562,222.07 562.1,221.59 562.2,221.06 562.3,220.49 562.4,219.87 562.5,219.21 562.6,218.52 562.7,217.79 562.8,217.03 562.9,216.25 563,215.45 563.1,214.63 563.2,213.81 563.3,212.97 563.4,212.14 563.5,211.31 563.6,210.49 563.7,209.69 563.8,208.91 563.9,208.15 564,207.43 564.1,206.74 564.2,206.09 564.3,205.5 564.4,204.95 564.5,204.45 564.6,204.02 564.7,203.64 564.75,203.48 564.8,203.33 564.85,203.2 564.9,203.09 564.95,203 565,202.92 565.05,202.86 565.1,202.81 565.15,202.79 565.2,202.78 565.25,202.8 565.3,202.86 565.35,202.96 565.4,203.09 565.45,203.27 565.5,203.48 565.55,203.72 565.6,204 565.65,204.32 565.7,204.67 565.8,205.45 565.9,206.36 566,207.36 566.1,208.45 566.2,209.62 566.3,210.84 566.4,212.11 566.5,213.41 566.6,214.72 566.7,216.03 566.8,217.33 566.9,218.6 567,219.84 567.1,221.04 567.2,222.18 567.3,223.26 567.4,224.28 567.5,225.24 567.6,226.13 567.7,226.95 567.8,227.7 567.9,228.38 568,229 568.1,229.55 568.2,230.05 568.3,230.49 568.4,230.88 568.5,231.22 568.6,231.51 568.7,231.77 568.8,231.99 568.9,232.18 569,232.34 569.1,232.47 569.2,232.59 569.3,232.68 569.4,232.76 569.5,232.83 569.6,232.88 569.7,232.93 569.8,232.96 569.9,232.99 570.1,233.03 570.3,233.06 570.5,233.08 570.7,233.09 599,233.1" fill="none" stroke="#1fb1ec" stroke-width="1.3"/>
<path d="M523.7,242.3 H600 M534.4,242.3 V246 M558.6,242.3 V246 M582.2,242.3 V246" stroke="#8a8a8a" stroke-width="1.2" fill="none"/>
<text x="534.6" y="256" class="ax2" text-anchor="middle">48</text>
<text x="558.6" y="256" class="ax2" text-anchor="middle">49</text>
<text x="582.4" y="256" class="ax2" text-anchor="middle">50</text>
<text id="ttl" class="ttl" x="8.4" y="28.2" textLength="114.8" lengthAdjust="spacingAndGlyphs">Analysis of a FAME mix</text>
<text id="bt1" class="bt" x="265" y="63.6" textLength="135.6" lengthAdjust="spacingAndGlyphs">Baseline resolution of key</text>
<text id="bt2" class="bt" x="266.6" y="75.9" textLength="132.8" lengthAdjust="spacingAndGlyphs">FAME pairs, C22:6n3 and</text>
<text id="bt3" class="bt" x="290.4" y="88.2" textLength="80.8" lengthAdjust="spacingAndGlyphs">C24:1Rs &gt; 1.45</text>
<text id="ctA" class="ct" x="527.2" y="18.8" textLength="61.8" lengthAdjust="spacingAndGlyphs">Competitor A</text>
<text id="ctB" class="ct" x="528" y="154.7" textLength="61.4" lengthAdjust="spacingAndGlyphs">Competitor B</text>
<text id="cap" class="cap" x="2.8" y="376.8" textLength="374.8" lengthAdjust="spacingAndGlyphs">DB-FATWAX Ultra Inert columns resolve DHA from common interferences.</text>
<text id="c0" class="cdb" x="4" y="414.1" textLength="52.4" lengthAdjust="spacingAndGlyphs">Conditions:</text>
<text id="c1" class="cd" x="5" y="430.1" textLength="53.4" lengthAdjust="spacingAndGlyphs">GC system:</text>
<text id="c1v" class="cd" x="65" y="430.1" textLength="63.4" lengthAdjust="spacingAndGlyphs">Agilent 7890B</text>
<text id="c2" class="cd" x="5" y="446.6" textLength="38.6" lengthAdjust="spacingAndGlyphs">Column:</text>
<text id="c2v" class="cd" x="65" y="446.6" textLength="190.4" lengthAdjust="spacingAndGlyphs">DB-FATWAX UI, 30 m x 0.25 mm, 0.25 μm,</text>
<text id="c3v" class="cd" x="65.6" y="462.2" textLength="85.8" lengthAdjust="spacingAndGlyphs">(p/n G3903-63008)</text>
<text id="c4" class="cd" x="5" y="479.1" textLength="22.6" lengthAdjust="spacingAndGlyphs">Inlet:</text>
<text id="c4v" class="cd" x="65" y="479.1" textLength="194" lengthAdjust="spacingAndGlyphs">250 °C, split/splitless mode, split ratio 50:1</text>
<text id="c5" class="cd" x="5" y="494.8" textLength="32.2" lengthAdjust="spacingAndGlyphs">Carrier:</text>
<text id="c5v" class="cd" x="65" y="494.8" textLength="179.8" lengthAdjust="spacingAndGlyphs">Helium, constant flow, 40 cm/s @ 50 °C</text>
<text id="r1" class="cd" x="302" y="430.3" textLength="26.6" lengthAdjust="spacingAndGlyphs">Oven:</text>
<text id="r1v" class="cd" x="351.4" y="430.3" textLength="207.4" lengthAdjust="spacingAndGlyphs">50 °C (2 min), 50 °C/min to 174 °C (14 min), 2</text>
<text id="r2v" class="cd" x="351.4" y="445.5" textLength="118" lengthAdjust="spacingAndGlyphs">°C/min to 215 °C (25 min)</text>
<text id="r3" class="cd" x="302" y="462" textLength="18" lengthAdjust="spacingAndGlyphs">FID:</text>
<text id="r3v" class="cd" x="352.4" y="462" textLength="154.2" lengthAdjust="spacingAndGlyphs">280 °C, Hydrogen: 40 mL/min, Air:</text>
<text id="r4v" class="cd" x="352.4" y="477.5" textLength="173.6" lengthAdjust="spacingAndGlyphs">400 mL/min, make-up gas: 25 mL/min</text>
<text id="r5" class="cd" x="301.4" y="493.1" textLength="42.4" lengthAdjust="spacingAndGlyphs">Injection:</text>
<text id="r5v" class="cd" x="351.4" y="493.1" textLength="20.8" lengthAdjust="spacingAndGlyphs">1 μL</text>
<text id="m0" class="lb" transform="translate(22.95,155.7) rotate(-90)" textLength="17" lengthAdjust="spacingAndGlyphs">C4:0</text>
<text id="m1" class="lb" transform="translate(38.55,123.9) rotate(-90)" textLength="17.4" lengthAdjust="spacingAndGlyphs">C6:0</text>
<text id="m2" class="lb" transform="translate(49.15,123.9) rotate(-90)" textLength="17.4" lengthAdjust="spacingAndGlyphs">C8:0</text>
<text id="m3" class="lb" transform="translate(57.35,125.3) rotate(-90)" textLength="23.2" lengthAdjust="spacingAndGlyphs">C10:0</text>
<text id="m4" class="lb" transform="translate(68.55,131.1) rotate(-90)" textLength="23.2" lengthAdjust="spacingAndGlyphs">C12:0</text>
<text id="m5" class="lb" transform="translate(60.95,205.9) rotate(-90)" textLength="22.2" lengthAdjust="spacingAndGlyphs">C11:0</text>
<text id="m6" class="lb" transform="translate(90.35,214.5) rotate(-90)" textLength="23.4" lengthAdjust="spacingAndGlyphs">C14:0</text>
<text id="m7" class="lb" transform="translate(76.55,248.1) rotate(-90)" textLength="22.2" lengthAdjust="spacingAndGlyphs">C13:0</text>
<text id="m8" class="lb" transform="translate(97.75,276.9) rotate(-90)" textLength="21.2" lengthAdjust="spacingAndGlyphs">C14:1</text>
<text id="m9" class="lb" transform="translate(110.35,288.1) rotate(-90)" textLength="24" lengthAdjust="spacingAndGlyphs">C15:0</text>
<text id="m10" class="lb" transform="translate(120.55,294.1) rotate(-90)" textLength="21" lengthAdjust="spacingAndGlyphs">C15:1</text>
<text id="m11" class="lb" transform="translate(135.55,234.3) rotate(-90)" textLength="23.2" lengthAdjust="spacingAndGlyphs">C16:0</text>
<text id="m12" class="lb" transform="translate(146.75,295.9) rotate(-90)" textLength="21" lengthAdjust="spacingAndGlyphs">C16:1</text>
<text id="m13" class="lb" transform="translate(171.55,308.3) rotate(-90)" textLength="22.2" lengthAdjust="spacingAndGlyphs">C17:0</text>
<text id="m14" class="lb" transform="translate(189.15,308.9) rotate(-90)" textLength="21.6" lengthAdjust="spacingAndGlyphs">C17:1</text>
<text id="m15" class="lb" transform="translate(229.15,286.7) rotate(-90)" textLength="22.8" lengthAdjust="spacingAndGlyphs">C18:0</text>
<text id="m16" class="lb" transform="translate(241.25,286.7) rotate(-90)" textLength="84.4" lengthAdjust="spacingAndGlyphs">C18:1trans+C18:1 cis</text>
<text id="m17" class="lb" transform="translate(266.05,315.1) rotate(-90)" textLength="36.4" lengthAdjust="spacingAndGlyphs">C18:2 cis</text>
<text id="m18" class="lb" transform="translate(274.55,316.9) rotate(-90)" textLength="45.4" lengthAdjust="spacingAndGlyphs">C18:2 trans</text>
<text id="m19" class="lb" transform="translate(285.35,311.7) rotate(-90)" textLength="34.6" lengthAdjust="spacingAndGlyphs">C18:3 n6</text>
<text id="m20" class="lb" transform="translate(301.35,311.7) rotate(-90)" textLength="33.6" lengthAdjust="spacingAndGlyphs">C18:3 n3</text>
<text id="m21" class="lb" transform="translate(340.95,287.7) rotate(-90)" textLength="22.8" lengthAdjust="spacingAndGlyphs">C20:0</text>
<text id="m22" class="lb" transform="translate(354.15,310.9) rotate(-90)" textLength="32.8" lengthAdjust="spacingAndGlyphs">C20:1n9</text>
<text id="m23" class="lb" transform="translate(375.35,311.1) rotate(-90)" textLength="34.6" lengthAdjust="spacingAndGlyphs">C20:2 n6</text>
<text id="m24" class="lb" transform="translate(387.15,304.3) rotate(-90)" textLength="33.6" lengthAdjust="spacingAndGlyphs">C20:3 n6</text>
<text id="m25" class="lb" transform="translate(396.55,309.3) rotate(-90)" textLength="22.6" lengthAdjust="spacingAndGlyphs">C21:0</text>
<text id="m26" class="lb" transform="translate(401.95,303.7) rotate(-90)" textLength="30.8" lengthAdjust="spacingAndGlyphs">C20:4n6</text>
<text id="m27" class="lb" transform="translate(412.75,311.1) rotate(-90)" textLength="32.4" lengthAdjust="spacingAndGlyphs">C20:3n3</text>
<text id="m28" class="lb" transform="translate(430.95,304.3) rotate(-90)" textLength="31.2" lengthAdjust="spacingAndGlyphs">C20:5n3</text>
<text id="m29" class="lb" transform="translate(442.95,282.3) rotate(-90)" textLength="22" lengthAdjust="spacingAndGlyphs">C22:0</text>
<text id="m30" class="lb" transform="translate(453.15,303.7) rotate(-90)" textLength="32.4" lengthAdjust="spacingAndGlyphs">C22:1n9</text>
<text id="m31" class="lb" transform="translate(474.95,307.5) rotate(-90)" textLength="32.2" lengthAdjust="spacingAndGlyphs">C22:2n6</text>
<text id="m32" class="lb" transform="translate(493.95,303.1) rotate(-90)" textLength="22.2" lengthAdjust="spacingAndGlyphs">C23:0</text>
<text id="m33" class="lb" transform="translate(553.35,309.3) rotate(-90)" textLength="23" lengthAdjust="spacingAndGlyphs">C24:0</text>
<text id="m34" class="lb" transform="translate(566.75,320.9) rotate(-90)" textLength="22.2" lengthAdjust="spacingAndGlyphs">C22:6</text>
<text id="m35" class="lb" transform="translate(574.95,320.9) rotate(-90)" textLength="21" lengthAdjust="spacingAndGlyphs">C24:1</text>
<text id="i0" class="lbb" transform="translate(320.9,127) rotate(-90)" textLength="26.2" lengthAdjust="spacingAndGlyphs">C24:0</text>
<text id="i1" class="lbb" transform="translate(347.5,155.8) rotate(-90)" textLength="38.8" lengthAdjust="spacingAndGlyphs">C22:6n3</text>
<text id="i2" class="lbb" transform="translate(360.9,153) rotate(-90)" textLength="25.4" lengthAdjust="spacingAndGlyphs">C24:1</text>
<text id="a0" class="lbb" transform="translate(539.9,95.6) rotate(-90)" textLength="70.4" lengthAdjust="spacingAndGlyphs">C24:0/C22:6n3</text>
<text id="a1" class="lbb" transform="translate(575.5,68.8) rotate(-90)" textLength="25.4" lengthAdjust="spacingAndGlyphs">C24:1</text>
<text id="b0" class="lbb" transform="translate(527.3,184.6) rotate(-90)" textLength="26" lengthAdjust="spacingAndGlyphs">C24:0</text>
<text id="b1" class="lbb" transform="translate(560.3,203.6) rotate(-90)" textLength="39.4" lengthAdjust="spacingAndGlyphs">C22:6n3</text>
<text id="b2" class="lbb" transform="translate(569.3,197.6) rotate(-90)" textLength="27.8" lengthAdjust="spacingAndGlyphs">C24:1</text>
</svg></body></html>
